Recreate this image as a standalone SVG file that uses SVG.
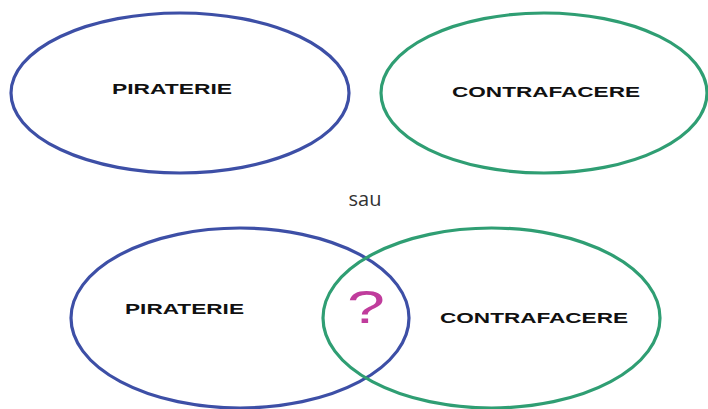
<svg xmlns="http://www.w3.org/2000/svg" width="708" height="409" viewBox="0 0 708 409">
<style>
.blue{fill:none;stroke:#3d4fa6;stroke-width:3.2}
.green{fill:none;stroke:#2f9e73;stroke-width:3.2}
.lbl{font-family:"Liberation Sans",Arial,sans-serif;font-weight:bold;font-size:14px;fill:#111}
.sau{font-family:"Open Sans","Noto Sans",sans-serif;font-size:20px;fill:#333}
.q{font-family:"Liberation Sans",Arial,sans-serif;font-size:46px;fill:#c03c9c}
</style>
<rect width="708" height="409" fill="#fff"/>
<g id="piraterie-top">
<ellipse class="blue" cx="180" cy="93" rx="169" ry="80"/>
<text class="lbl" x="112" y="94" textLength="120" lengthAdjust="spacingAndGlyphs">PIRATERIE</text>
</g>
<g id="contrafacere-top">
<ellipse class="green" cx="544" cy="93" rx="163" ry="80"/>
<text class="lbl" x="452" y="97" textLength="188" lengthAdjust="spacingAndGlyphs">CONTRAFACERE</text>
</g>
<g id="sau">
<text class="sau" x="365" y="206" text-anchor="middle">sau</text>
</g>
<g id="piraterie-bottom">
<ellipse class="blue" cx="240" cy="318" rx="169" ry="90"/>
<text class="lbl" x="125" y="314" textLength="119" lengthAdjust="spacingAndGlyphs">PIRATERIE</text>
</g>
<g id="contrafacere-bottom">
<ellipse class="green" cx="491.5" cy="318" rx="168.5" ry="90"/>
<text class="lbl" x="440" y="323" textLength="188" lengthAdjust="spacingAndGlyphs">CONTRAFACERE</text>
</g>
<g id="question">
<text class="q" x="347" y="323" textLength="38" lengthAdjust="spacingAndGlyphs">?</text>
</g>
<g id="connectors"></g>
</svg>
